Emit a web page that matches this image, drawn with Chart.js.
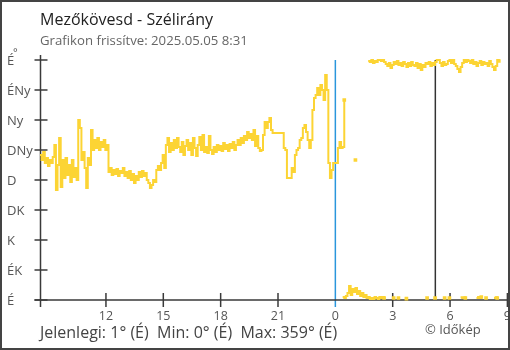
<!DOCTYPE html>
<html>
<head>
<meta charset="utf-8">
<script src="https://cdn.jsdelivr.net/npm/chart.js@4.4.1/dist/chart.umd.min.js"></script>
<style>
  html, body { margin: 0; padding: 0; background: #fff; }
  #wrap { position: relative; width: 510px; height: 350px; overflow: hidden; font-family: 'Open Sans', sans-serif; }
  #c { position: absolute; left: 0; top: 0; }
  .t { position: absolute; white-space: pre; line-height: 1; }
  #title { left: 40px; top: 10.5px; font-size: 16px; color: #222; }
  #sub { left: 40px; top: 33.5px; font-size: 13.2px; color: #666; }
  #foot { left: 40px; top: 323.8px; font-size: 16px; color: #444; }
  #copy { left: 425px; top: 322.5px; font-size: 13px; color: #555; }
  #frame { position: absolute; left: 0; top: 0; width: 510px; height: 350px; box-sizing: border-box; border: 2px solid #444; pointer-events: none; }
</style>
</head>
<body>
<div id="wrap">
  <canvas id="c" width="510" height="350"></canvas>
  <div class="t" id="title">Mezőkövesd - Szélirány</div>
  <div class="t" id="sub">Grafikon frissítve: 2025.05.05 8:31</div>
  <div class="t" id="foot">Jelenlegi: 1° (É)  Min: 0° (É)  Max: 359° (É)</div>
  <div class="t" id="copy">© Időkép</div>
  <div id="frame"></div>
</div>
<script>
// Time base: hours relative to midnight, one reading every 5 minutes
const startHour = -15.45;
const stepHours = 1 / 12;
const axisMinHour = -15.45;
const axisMaxHour = 9;
const midnightHour = 0;
const sunriseHour = 5.23;

// Wind direction (degrees) per reading; null = no reading / wrap gap
const N = null;
const windDir = [
  217.5, 210, 222, 205.5, 213, 201, 210, 205.5, 214.5, 232.5,
  165, 202.5, 243, 169.5, 210, 183, 213, 187.5, 202.5, 177,
  210, 184.5, 198, 180, 270, 258, 210, 222, 198, 168,
  213, 202.5, 255, 225, 240, 228, 243, 225, 237, 229.5,
  240, 225, 232.5, 192, 198, 187.5, 195, 189, 196.5, 186,
  193.5, 190.5, 198, 186, 192, 183, 193.5, 180, 189, 175.5,
  186, 180, 192, 184.5, 193.5, 186, 190.5, 180, 175.5, 168,
  172.5, 180, 177, 195, 201, 195, 205.5, 217.5, 198, 232.5,
  243, 222, 235.5, 225, 240, 228, 243, 229.5, 222, 237,
  217.5, 231, 240, 225, 235.5, 217.5, 243, 228, 216, 232.5,
  244.5, 225, 247.5, 222, 229.5, 220.5, 246, 225, 219, 229.5,
  222, 232.5, 225, 231, 223.5, 235.5, 226.5, 232.5, 223.5, 234,
  228, 237, 225, 232.5, 240, 232.5, 243, 235.5, 246, 240,
  252, 243, 249, 240, 255, 231, 246, 228, 223.5, 225,
  247.5, 267, 258, 267, 273, 255, 250.5, 250.5, 250.5, 250.5,
  250.5, 250.5, 250.5, 228, 225, 183, 183, 183, 198, 192,
  217.5, 225, 228, 240, 243, 258, 262.5, 252, 240, 228,
  240, 285, 303, 307.5, 318, 307.5, 322.5, 315, 300, 337.5,
  315, 205.5, 183, 195, 205.5, 205.5, 205.5, 228, 237, 228,
  229.5, 300, N, N, N, N, N, N, 210, N,
  N, N, N, N, N, N, 358.5, 357, 360, 355.5,
  358.5, 357, 360, 360, 358.5, 360, 357, 354, 351, 355.5,
  348, 352.5, 357, 354, 358.5, 352.5, 355.5, 351, 357, 354,
  349.5, 355.5, 351, 357, 352.5, 351, 355.5, 348, 354, 345,
  352.5, 349.5, 355.5, 354, 357, 351, 355.5, 352.5, 357, 360,
  360, 355.5, 351, 357, 352.5, 354, 358.5, 360, 355.5, 360,
  354, 351, 346.5, 342, 349.5, 355.5, 360, 357, 360, 358.5,
  355.5, 360, 354, 357, 351, 355.5, 358.5, 352.5, 357, 354,
  355.5, 351, 358.5, 354, 349.5, 345, 351, 360, 358.5
];

// Readings just east of north, drawn at the bottom of the scale
const northOffset = 190;
const windDirNorth = [
  4.5, 3, 6, 10.5, 21, 7.5, 16.5, 12, 18, 9,
  13.5, 6, 10.5, 4.5, 7.5, 3, 4.5, 1.5, 3, 1.5,
  4.5, 3, 1.5, 4.5, 3, 4.5, 3, N, N, N,
  N, N, 3, N, N, 3, N, N, N, N,
  2, N, N, N, N, N, N, N, N, N,
  N, N, N, 3, N, N, N, N, 3, N,
  N, N, N, N, 3, N, N, 3, N, N,
  N, N, N, N, 4, 3, 4, 3, N, N,
  N, N, N, N, 3, 4.5, 3, 4.5, N, N,
  3, N, N, N, N, 3, 4, 3
];

// Axis labels
const dirTickValues = [0, 45, 90, 135, 180, 225, 270, 315, 360];
const dirTickLabels = ['É', 'ÉK', 'K', 'DK', 'D', 'DNy', 'Ny', 'ÉNy', 'É'];
const hourTickValues = [-12, -9, -6, -3, 0, 3, 6, 9];
const hourTickLabels = ['12', '15', '18', '21', '0', '3', '6', '9'];

const lineColor = '#fcd434';

function toPoints(values, offset) {
  return values.map((v, i) => ({ x: startHour + (offset + i) * stepHours, y: v }));
}

// Square marker on the last reading of every run (isolated readings included)
function endMarker(ctx) {
  const d = ctx.dataset.data;
  const next = d[ctx.dataIndex + 1];
  return (next === undefined || next.y === null) ? 2.6 : 0;
}

const axesPlugin = {
  id: 'windAxes',
  beforeDatasetsDraw(chart) {
    const { ctx, chartArea: a, scales: { x, y } } = chart;
    ctx.save();
    const top = y.getPixelForValue(360);
    const bottom = y.getPixelForValue(0);

    // midnight marker
    const xm = x.getPixelForValue(midnightHour);
    ctx.strokeStyle = '#2a96dc';
    ctx.lineWidth = 1.5;
    ctx.beginPath(); ctx.moveTo(xm, top); ctx.lineTo(xm, bottom + 7); ctx.stroke();

    // sunrise marker
    const xs = x.getPixelForValue(sunriseHour);
    ctx.strokeStyle = '#333';
    ctx.beginPath(); ctx.moveTo(xs, top); ctx.lineTo(xs, bottom); ctx.stroke();

    // axis lines
    ctx.strokeStyle = '#3a3a3a';
    ctx.lineWidth = 1.5;
    const ax = a.left + 0.5;
    ctx.beginPath();
    ctx.moveTo(ax, top - 5); ctx.lineTo(ax, bottom + 7);
    ctx.moveTo(ax - 6, bottom); ctx.lineTo(a.right + 4, bottom);
    ctx.stroke();

    // direction ticks and labels
    ctx.fillStyle = '#555';
    ctx.font = '13px "Open Sans"';
    ctx.textAlign = 'left';
    ctx.textBaseline = 'middle';
    dirTickValues.forEach((v, i) => {
      const py = y.getPixelForValue(v);
      ctx.beginPath(); ctx.moveTo(ax - 6, py); ctx.lineTo(ax + 7, py); ctx.stroke();
      ctx.fillText(dirTickLabels[i], 7, py + 1);
    });
    ctx.font = '11px "Open Sans"';
    ctx.fillText('°', 13, top - 7);

    // hour ticks and labels
    ctx.font = '12.5px "Open Sans"';
    ctx.textAlign = 'center';
    ctx.textBaseline = 'alphabetic';
    hourTickValues.forEach((v, i) => {
      const px = x.getPixelForValue(v);
      if (v !== midnightHour) {
        ctx.beginPath(); ctx.moveTo(px, bottom - 7); ctx.lineTo(px, bottom + 7); ctx.stroke();
      }
      ctx.fillText(hourTickLabels[i], px, bottom + 20);
    });
    ctx.restore();
  }
};

const seriesStyle = {
  borderColor: lineColor,
  backgroundColor: lineColor,
  pointBackgroundColor: lineColor,
  pointBorderWidth: 0,
  pointStyle: 'rect',
  pointRadius: endMarker,
  pointHoverRadius: 0,
  borderWidth: 2,
  stepped: true,
  spanGaps: false,
  fill: false,
  clip: 6
};

new Chart(document.getElementById('c'), {
  type: 'line',
  data: {
    datasets: [
      Object.assign({ label: 'Szélirány', data: toPoints(windDir, 0) }, seriesStyle),
      Object.assign({ label: 'Szélirány (É)', data: toPoints(windDirNorth, northOffset) }, seriesStyle)
    ]
  },
  options: {
    responsive: false,
    animation: false,
    devicePixelRatio: 1,
    events: [],
    layout: { padding: { left: 40, right: 1.7, top: 60, bottom: 50 } },
    scales: {
      x: { type: 'linear', min: axisMinHour, max: axisMaxHour, display: false },
      y: { type: 'linear', min: 0, max: 360, display: false }
    },
    plugins: { legend: { display: false }, tooltip: { enabled: false } }
  },
  plugins: [axesPlugin]
});
</script>
</body>
</html>
